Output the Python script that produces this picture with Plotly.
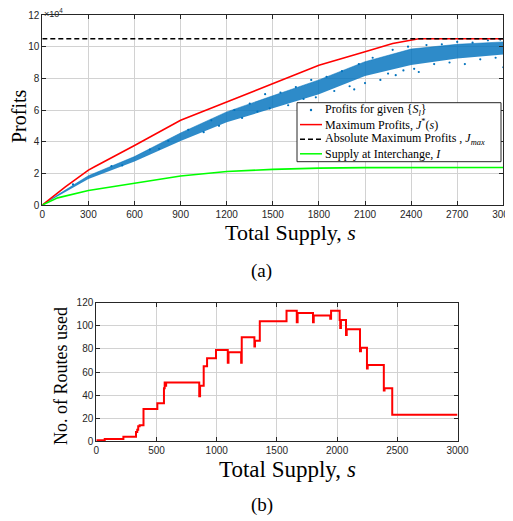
import plotly.graph_objects as go

# ---------------- Panel (a) data (profits in units of 1e4) ----------------
band_s = [0, 100, 300, 600, 900, 1200, 1500, 1800, 2100, 2400, 2700, 3000]
band_lower = [0, 0.56, 1.65, 2.74, 4.05, 5.22, 6.10, 7.00, 8.15, 8.85, 9.25, 9.50]
band_upper = [0, 0.64, 1.85, 3.06, 4.55, 5.88, 6.90, 7.90, 9.05, 9.85, 10.15, 10.30]

outlier_s = [200, 450, 520, 700, 760, 820, 950, 1050, 1100, 1150, 1250, 1300, 1350,
             1400, 1450, 1480, 1550, 1600, 1650, 1700, 1750, 1780, 1850, 1900, 1950,
             2000, 2030, 2060, 2100, 2150, 2200, 2250, 2280, 2300, 2350, 2380, 2420,
             2450, 2500, 2550, 2600, 2650, 2700, 2750, 2800, 2850, 2900, 2950, 3000, 2980]
outlier_profit = [1.30, 2.45, 2.50, 3.50, 3.55, 4.05, 4.75, 4.60, 5.35, 5.00, 6.00, 5.50, 6.40,
                  5.90, 7.00, 6.10, 7.10, 6.30, 7.45, 6.70, 7.90, 6.80, 8.10, 7.20, 8.45,
                  7.50, 7.30, 8.90, 7.70, 9.30, 7.90, 8.30, 9.80, 8.20, 8.50, 10.00, 8.60,
                  8.40, 10.10, 8.90, 10.15, 9.00, 10.30, 8.90, 10.25, 9.20, 10.40, 9.30, 8.70, 10.45]

jstar_s = [0, 150, 300, 340, 600, 900, 1200, 1500, 1800, 2100, 2280, 2450, 3000]
jstar = [0, 1.15, 2.20, 2.42, 3.76, 5.35, 6.50, 7.66, 8.83, 9.68, 10.20, 10.50, 10.50]

jmax_s = [0, 3000]
jmax = [10.5, 10.5]

inter_s = [0, 100, 300, 600, 900, 1200, 1500, 1800, 2100, 3000]
inter = [0, 0.45, 0.92, 1.38, 1.83, 2.12, 2.25, 2.33, 2.36, 2.37]

x_ticks_a = [0, 300, 600, 900, 1200, 1500, 1800, 2100, 2400, 2700, 3000]
y_ticks_a = [0, 2, 4, 6, 8, 10, 12]

# ---------------- Panel (b) data ----------------
routes_s = [0, 70, 225, 330, 340, 348, 360, 392, 507, 562, 568, 575, 580, 855, 862, 892,
            920, 994, 1092, 1098, 1203, 1208, 1313, 1318, 1358, 1580, 1665, 1672, 1800,
            1806, 1943, 1950, 2021, 2026, 2032, 2074, 2080, 2190, 2198, 2206, 2248, 2254,
            2388, 2394, 2458, 3000]
routes_n = [1, 2, 4, 8, 10, 13, 14, 28, 33, 46, 51, 48, 51, 39, 48, 65,
            72, 79, 68, 77, 68, 90, 82, 87, 104, 113, 103, 111, 103,
            109, 106, 113, 105, 98, 105, 92, 97, 78, 81, 81, 63, 66,
            44, 46, 23, 23]

x_ticks_b = [0, 500, 1000, 1500, 2000, 2500, 3000]
y_ticks_b = [0, 20, 40, 60, 80, 100, 120]

# The page body has an 8px default margin; the figure is sized to fit the window.
OFF = 8
W, H = 513 - OFF, 521 - OFF
def px(x):
    return (x - OFF) / W
def py(y):
    return 1 - (y - OFF) / H

BLUE = "#0072BD"
AX = "#262626"
GRID = "#d2d2d2"
SERIF = "Liberation Serif"
SANS = "Liberation Sans"

fig = go.Figure()

fig.add_trace(go.Scatter(x=band_s, y=band_lower, mode="lines", line=dict(width=0),
                         showlegend=False, hoverinfo="skip", xaxis="x", yaxis="y"))
fig.add_trace(go.Scatter(x=band_s, y=band_upper, mode="lines", line=dict(width=0.5, color=BLUE),
                         fill="tonexty", fillcolor="rgba(0,114,189,0.82)",
                         showlegend=False, xaxis="x", yaxis="y"))
fig.add_trace(go.Scatter(x=outlier_s, y=outlier_profit, mode="markers",
                         marker=dict(size=2.2, color=BLUE), showlegend=False,
                         xaxis="x", yaxis="y"))
fig.add_trace(go.Scatter(x=jstar_s, y=jstar, mode="lines", line=dict(color="#FF0000", width=1.6),
                         showlegend=False, xaxis="x", yaxis="y"))
fig.add_trace(go.Scatter(x=jmax_s, y=jmax, mode="lines",
                         line=dict(color="#000000", width=1.5, dash="5px,3px"),
                         showlegend=False, xaxis="x", yaxis="y"))
fig.add_trace(go.Scatter(x=inter_s, y=inter, mode="lines", line=dict(color="#00FF00", width=1.6),
                         showlegend=False, xaxis="x", yaxis="y"))

fig.add_trace(go.Scatter(x=routes_s, y=routes_n, mode="lines", line_shape="hv",
                         line=dict(color="#FF0000", width=2), showlegend=False,
                         xaxis="x2", yaxis="y2"))

axis_common = dict(showline=True, linecolor=AX, linewidth=1, mirror="ticks",
                   ticks="inside", ticklen=4, tickcolor=AX, showgrid=True,
                   gridcolor=GRID, gridwidth=1, zeroline=False, automargin=False,
                   ticklabeloverflow="allow",
                   tickfont=dict(family=SANS, size=10, color=AX))

fig.update_layout(
    width=W, height=H, margin=dict(l=0, r=0, t=0, b=0, pad=0),
    paper_bgcolor="white", plot_bgcolor="white", showlegend=False,
    xaxis=dict(domain=[px(42.3), px(503.3)], range=[0, 3000], tickvals=x_ticks_a,
               anchor="y", **axis_common),
    yaxis=dict(domain=[py(205), py(15)], range=[0, 12], tickvals=y_ticks_a,
               anchor="x", **axis_common),
    xaxis2=dict(domain=[px(96.3), px(457.5)], range=[0, 3000], tickvals=x_ticks_b,
                anchor="y2", **axis_common),
    yaxis2=dict(domain=[py(441.3), py(302.7)], range=[0, 120], tickvals=y_ticks_b,
                anchor="x2", **axis_common),
)

ann = []
def add_text(text, x, y, size, family=SERIF, xanchor="center", angle=0, color="#000"):
    ann.append(dict(text=text, x=px(x), y=py(y), xref="paper", yref="paper",
                    xanchor=xanchor, yanchor="middle", showarrow=False, textangle=angle,
                    font=dict(family=family, size=size, color=color)))

add_text("×10<sup>4</sup>", 42, 13.5, 9, family=SANS, xanchor="left", color=AX)
add_text("Profits", 19, 116, 20, angle=-90)
add_text("Total Supply, <i>s</i>", 290, 232, 22)
add_text("(a)", 261, 271, 19)
add_text("No. of Routes used", 61, 376, 18, angle=-90)
add_text("Total Supply, <i>s</i>", 287, 469.5, 23)
add_text("(b)", 261.5, 505, 19)

# legend (panel a)
leg_x0, leg_x1, leg_y0, leg_y1 = 297, 501, 102.7, 161.7
row_y = [110.0, 124.6, 139.3, 153.8]
labels = ["Profits for given {<i>S</i><sub><i>l</i></sub>}",
          "Maximum Profits, <i>J</i><sup>*</sup>(<i>s</i>)",
          "Absolute Maximum Profits , <i>J</i><sub><i>max</i></sub>",
          "Supply at Interchange, <i>I</i>"]
for lab, yy in zip(labels, row_y):
    add_text(lab, 323, yy, 12, xanchor="left")

shapes = [dict(type="rect", xref="paper", yref="paper", x0=px(leg_x0), x1=px(leg_x1),
               y0=py(leg_y1), y1=py(leg_y0), fillcolor="white",
               line=dict(color=AX, width=1), layer="above")]
shapes.append(dict(type="circle", xref="paper", yref="paper", x0=px(309.8), x1=px(312.2),
                   y0=py(row_y[0] + 1.2), y1=py(row_y[0] - 1.2), fillcolor=BLUE,
                   line=dict(width=0), layer="above"))
for yy, col, dash in [(row_y[1], "#FF0000", "solid"), (row_y[2], "#000000", "5px,3px"),
                      (row_y[3], "#00FF00", "solid")]:
    shapes.append(dict(type="line", xref="paper", yref="paper", x0=px(300), x1=px(322),
                       y0=py(yy), y1=py(yy), line=dict(color=col, width=1.5, dash=dash),
                       layer="above"))

fig.update_layout(annotations=ann, shapes=shapes)
fig.write_html("out.html")
